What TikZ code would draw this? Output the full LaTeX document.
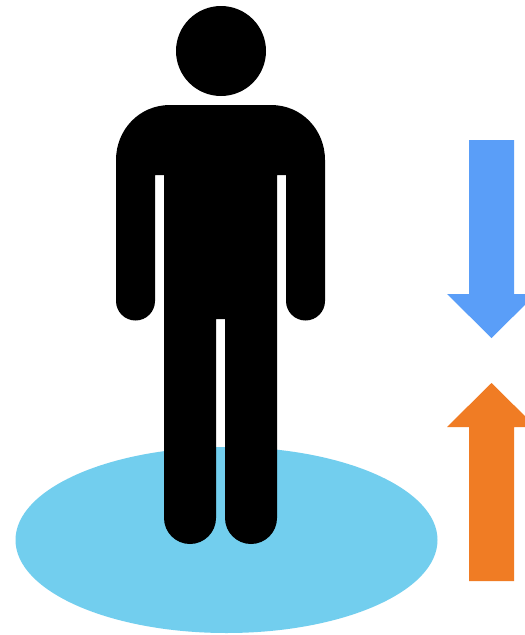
\documentclass[tikz,border=0pt]{standalone}
\definecolor{ell}{HTML}{72CEEE}
\definecolor{blu}{HTML}{5A9EF8}
\definecolor{org}{HTML}{F07C24}
\begin{document}
\begin{tikzpicture}[x=1pt,y=-1pt,line join=round]
\useasboundingbox (0,0) rectangle (525,635);
\fill[white] (0,0) rectangle (525,635);
\fill[ell] (226.5,540) ellipse [x radius=211,y radius=93];
\fill[black] (221,51) circle (45);
% body
\fill[black] (170,105) -- (271,105)
 .. controls (302,105) and (325,130) .. (325,160)
 -- (325,301) arc[start angle=0,end angle=180,radius=19.5] -- (286,175) -- (277,175)
 -- (277,518) arc[start angle=0,end angle=180,x radius=26,y radius=26]
 -- (225,319) -- (216,319)
 -- (216,518) arc[start angle=0,end angle=180,x radius=26,y radius=26]
 -- (164,175) -- (155,175) -- (155,301)
 arc[start angle=0,end angle=180,radius=19.5]
 -- (116,160) .. controls (116,130) and (139,105) .. (170,105) -- cycle;
\fill[blu] (469,140) -- (514,140) -- (514,294) -- (536,294) -- (491.5,338) -- (447,294) -- (469,294) -- cycle;
\fill[org] (469,581) -- (514,581) -- (514,427) -- (536,427) -- (491.5,383) -- (447,427) -- (469,427) -- cycle;
\end{tikzpicture}
\end{document}
